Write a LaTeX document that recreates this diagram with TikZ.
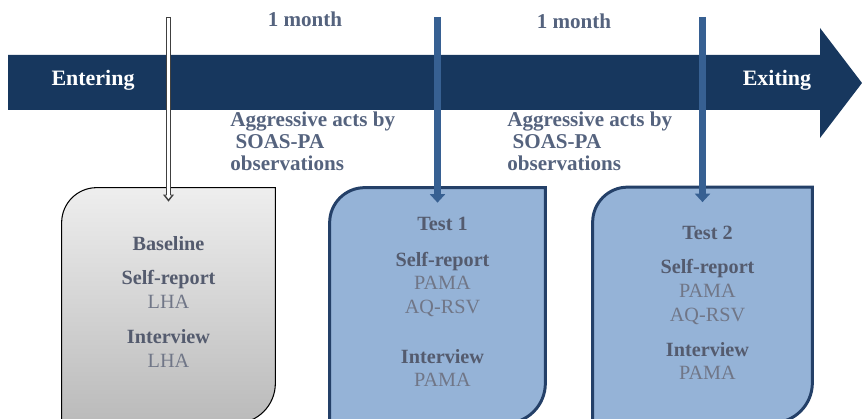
\documentclass[tikz,border=0pt]{standalone}
\usepackage{fontspec}
\setmainfont{Liberation Serif}
\usetikzlibrary{arrows.meta, positioning, calc}
\definecolor{bannerblue}{RGB}{23, 55, 94}
\definecolor{tickblue}{RGB}{55, 96, 146}
\definecolor{boxblue}{RGB}{149, 179, 215}
\definecolor{boxedge}{RGB}{36, 64, 104}
\definecolor{labelgray}{RGB}{85, 99, 126}
\definecolor{headgray}{RGB}{84, 91, 110}
\definecolor{itemgray}{RGB}{112, 118, 135}
\definecolor{greytop}{RGB}{238, 238, 238}
\definecolor{greybot}{RGB}{186, 186, 186}
\newcommand{\headtxt}[1]{\textcolor{headgray}{\bfseries #1}}
\newcommand{\itemtxt}[1]{\textcolor{itemgray}{#1}}
% card outline: rounded top left and bottom right
\newcommand{\cardpath}[2]{\path[#2] (#1.south west) -- ([yshift=-7mm]#1.north west)
  arc[start angle=180, end angle=90, radius=7mm] -- (#1.north east)
  -- ([yshift=8mm]#1.south east) arc[start angle=0, end angle=-90, radius=8mm] -- cycle;}

\begin{document}
\begin{tikzpicture}[
        phase/.style={rectangle, draw=none, minimum height=4.7cm, inner sep=0pt},
        cardtxt/.style={align=center, inner sep=0pt, font=\fontsize{11.5}{13.4}\selectfont},
        note/.style={inner sep=0pt, text=labelgray, font=\fontsize{12}{12.3}\selectfont\bfseries},
        ends/.style={inner sep=0pt, text=white, font=\fontsize{12.5}{14}\selectfont\bfseries},
        tick/.style={line width=3.9pt, tickblue, -{Triangle[width=8.5pt,length=4.8pt]}},
        tickout/.style={line width=3.4pt, black!75, -{Triangle[width=6pt,length=4pt]}},
        tickin/.style={line width=1.5pt, white, shorten <=0.8pt, shorten >=1.5pt, -{Triangle[width=3pt,length=2pt]}}
      ]
        \path[use as bounding box, clip] (0,0) rectangle (17.24,-8.38);

        % timeline banner
        \fill[bannerblue] (0.16,-1.1) -- (16.4,-1.1) -- (16.4,-0.56) -- (17.24,-1.66)
          -- (16.4,-2.76) -- (16.4,-2.2) -- (0.16,-2.2) -- cycle;
        \node[ends] (enter) at (1.86,-1.6) {Entering};
        \node[ends] (exit) at (15.54,-1.6) {Exiting};

        \node[note] (gap1) at (6.1,-0.38) {1 month};
        \node[note] (gap2) at (11.48,-0.42) {1 month};
        \node[note, anchor=north west, align=left] (obs1) at (4.6,-2.24)
          {Aggressive acts by\\\hspace{3pt}SOAS-PA\\observations};
        \node[note, anchor=north west, align=left] (obs2) at (10.14,-2.24)
          {Aggressive acts by\\\hspace{3pt}SOAS-PA\\observations};

        % measurement cards
        \node[phase, minimum width=4.26cm] (baseline) at (3.37,-6.11) {};
        \node[phase, minimum width=4.3cm] (testone) at (8.75,-6.11) {};
        \node[phase, minimum width=4.38cm] (testtwo) at (14.05,-6.1) {};
        \cardpath{baseline}{draw=black, line width=0.6pt, top color=greytop, bottom color=greybot}
        \cardpath{testone}{draw=boxedge, line width=1.7pt, fill=boxblue}
        \cardpath{testtwo}{draw=boxedge, line width=1.7pt, fill=boxblue}

        \node[cardtxt, below=0.96cm of baseline.north] (baselinetxt)
          {\headtxt{Baseline}\\[6.5pt]\headtxt{Self-report}\\\itemtxt{LHA}\\[6.5pt]
           \headtxt{Interview}\\\itemtxt{LHA}};
        \node[cardtxt, below=0.58cm of testone.north, xshift=1mm] (testonetxt)
          {\headtxt{Test 1}\\[7pt]\headtxt{Self-report}\\\itemtxt{PAMA}\\\itemtxt{AQ-RSV}\\[15pt]
           \headtxt{Interview}\\\itemtxt{PAMA}};
        \node[cardtxt, below=0.78cm of testtwo.north, xshift=1mm] (testtwotxt)
          {\headtxt{Test 2}\\[6pt]\headtxt{Self-report}\\\itemtxt{PAMA}\\\itemtxt{AQ-RSV}\\[6.5pt]
           \headtxt{Interview}\\\itemtxt{PAMA}};

        % time points
        \coordinate (m0) at (3.37,-0.34);
        \coordinate (m1) at (8.75,-0.34);
        \coordinate (m2) at (14.05,-0.34);
        \draw[tickout] (m0) -- ([yshift=-2.8mm]baseline.north);
        \draw[tickin] (m0) -- ([yshift=-2.8mm]baseline.north);
        \draw[tick] (m1) -- ([yshift=-3mm]testone.north);
        \draw[tick] (m2) -- ([yshift=-3mm]testtwo.north);
      \end{tikzpicture}
\end{document}
